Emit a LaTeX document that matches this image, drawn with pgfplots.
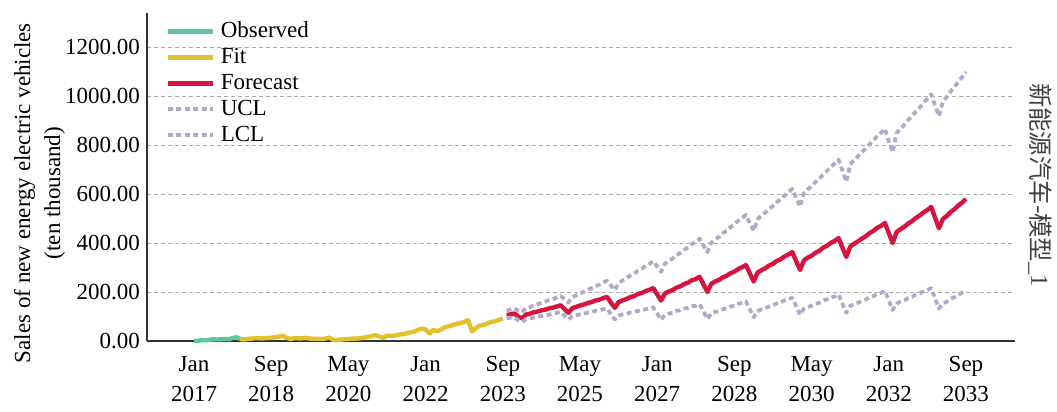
\documentclass[border=0pt]{standalone}
\usepackage{fontspec}
\setmainfont{Liberation Serif}
\newfontfamily\cjk{Noto Sans CJK SC}
\usepackage{pgfplots}
\usepackage{pgfplotstable}
\pgfplotsset{compat=1.18}

\definecolor{obsgreen}{HTML}{5BC99A}
\definecolor{fitgold}{HTML}{E2C12E}
\definecolor{fcred}{HTML}{D5143F}
\definecolor{cllav}{HTML}{B5A7C8}
\definecolor{gridgray}{HTML}{A8A8A8}

% Monthly forecast with upper / lower confidence limits (month 0 = Jan 2017)
\pgfplotstableread{
m F U L
81 106 124 93
82 109 129 95
83 112 134 96
84 100 123 85
85 92 117 78
86 108 134 89
87 111 138 91
88 117 146 96
89 120 150 98
90 125 156 102
91 128 161 104
92 133 167 108
93 136 171 111
94 141 178 115
95 146 184 119
96 130 170 103
97 115 158 88
98 134 179 102
99 139 186 105
100 145 195 109
101 149 201 112
102 155 209 116
103 159 216 118
104 165 224 123
105 169 230 125
106 175 239 129
107 180 246 133
108 157 227 110
109 135 208 88
110 159 236 104
111 166 247 108
112 171 255 110
113 179 267 116
114 183 275 117
115 192 287 123
116 196 295 125
117 204 307 130
118 209 315 132
119 216 326 137
120 190 304 112
121 165 283 87
122 194 315 107
123 202 327 112
124 208 337 115
125 218 351 123
126 223 359 125
127 233 373 132
128 238 382 135
129 248 396 142
130 253 404 144
131 262 417 150
132 231 390 120
133 200 363 90
134 233 401 112
135 243 415 119
136 249 425 122
137 260 440 130
138 266 450 133
139 277 465 141
140 283 476 144
141 294 491 152
142 301 502 156
143 310 515 162
144 276 480 130
145 243 450 97
146 279 497 122
147 289 512 129
148 297 524 134
149 308 540 141
150 315 551 145
151 327 567 154
152 334 579 158
153 345 594 166
154 353 607 170
155 363 621 177
156 326 585 142
157 290 548 107
158 329 603 132
159 340 619 139
160 348 632 144
161 360 649 152
162 368 662 156
163 381 680 166
164 389 694 170
165 401 711 178
166 409 724 182
167 420 740 190
168 381 695 152
169 343 650 115
170 385 721 143
171 397 739 151
172 406 753 156
173 418 771 164
174 427 785 169
175 440 803 178
176 449 818 183
177 462 836 193
178 470 850 197
179 482 867 205
180 441 815 165
181 400 770 126
182 444 848 153
183 456 866 161
184 466 882 166
185 479 902 175
186 489 918 180
187 502 937 189
188 512 953 194
189 525 973 203
190 535 989 208
191 547 1007 216
192 503 960 173
193 460 918 132
194 498 977 153
195 510 996 160
196 526 1018 172
197 538 1037 179
198 553 1058 189
199 565 1077 197
200 580 1098 205
}\fctable

\newcommand{\chartfont}{\fontsize{11.5bp}{15bp}\selectfont}

\begin{document}
\begin{tikzpicture}
\useasboundingbox (-73.5bp,-35.5bp) rectangle (455bp,170.5bp);
\begin{axis}[
  at={(0,0)}, anchor=south west,
  scale only axis, width=434bp, height=164bp,
  xmin=-12.18, xmax=212.7, ymin=0, ymax=1339,
  clip=false,
  axis x line*=bottom, axis y line*=left,
  axis line style={black!80, line width=0.75bp, -},
  xtick={0,20,...,200},
  xticklabels={{Jan\\2017},{Sep\\2018},{May\\2020},{Jan\\2022},{Sep\\2023},{May\\2025},{Jan\\2027},{Sep\\2028},{May\\2030},{Jan\\2032},{Sep\\2033}},
  xticklabel style={align=center, font=\chartfont, yshift=-4bp},
  ytick={0,200,...,1200},
  yticklabel style={font=\chartfont,
    /pgf/number format/.cd, fixed, fixed zerofill, precision=2, 1000 sep={}, assume math mode=true},
  major tick length=0pt,
  ymajorgrids,
  grid style={gridgray, line width=0.5bp, dash pattern=on 2bp off 1.5bp},
  legend style={at={(rel axis cs:0,1)}, anchor=north west, xshift=9bp, yshift=-3.5bp,
    draw=none, fill=none, inner sep=0pt, font=\fontsize{11.5bp}{13bp}\selectfont,
    row sep=2bp, column sep=3bp,
    nodes={inner sep=0pt, text height=8.5bp, text depth=2.5bp}},
  legend cell align=left,
  legend image code/.code={\draw[#1] (0bp,0bp) -- (22.5bp,0bp);},
  line join=round,
]
\addplot[obsgreen, line width=2.2bp] coordinates {
(0,1) (1,1) (2,3) (3,3) (4,5) (5,7) (6,6) (7,7) (8,8) (9,7) (10,12) (11,15) (12,8)
};
\addlegendentry{Observed}
\addplot[fitgold, line width=2.2bp] coordinates {
(12,8) (13,6) (14,9) (15,10) (16,12) (17,11) (18,11) (19,12) (20,13) (21,15) (22,18) (23,21)
(24,13) (25,8) (26,12) (27,11) (28,11) (29,13) (30,10) (31,9) (32,9) (33,8) (34,10) (35,14)
(36,5) (37,3) (38,6) (39,7) (40,8) (41,10) (42,10) (43,11) (44,14) (45,16) (46,20) (47,24)
(48,18) (49,13) (50,22) (51,21) (52,22) (53,26) (54,28) (55,31) (56,35) (57,38) (58,45) (59,51)
(60,47) (61,31) (62,45) (63,40) (64,46) (65,56) (66,60) (67,65) (68,70) (69,73) (70,78) (71,86)
(72,40) (73,52) (74,63) (75,65) (76,71) (77,78) (78,80) (79,86) (80,92)
};
\addlegendentry{Fit}
\addplot[fcred, line width=2.2bp] table[x=m, y=F] {\fctable};
\addlegendentry{Forecast}
\addplot[cllav, line width=1.9bp, dash pattern=on 2.5bp off 1.75bp] table[x=m, y=U] {\fctable};
\addlegendentry{UCL}
\addplot[cllav, line width=1.9bp, dash pattern=on 2.5bp off 1.75bp] table[x=m, y=L] {\fctable};
\addlegendentry{LCL}

\node[rotate=90, align=center, font=\chartfont] at ([xshift=-53.75bp]rel axis cs:0,0.451)
  {Sales of new energy electric vehicles\\(ten thousand)};
\node[rotate=-90, font=\fontsize{12.2bp}{13bp}\selectfont, text=black!75] at ([xshift=12.5bp]rel axis cs:1,0.476)
  {{\cjk 新能源汽车-模型}\_1};
\end{axis}
\end{tikzpicture}
\end{document}
